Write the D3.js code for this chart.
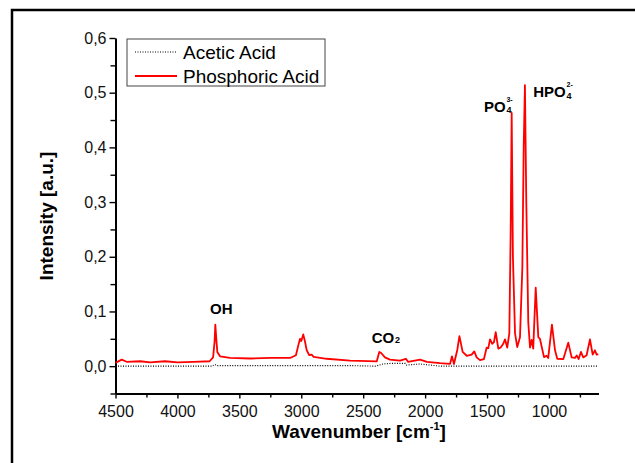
<!DOCTYPE html>
<html>
<head>
<meta charset="utf-8">
<script src="https://cdn.jsdelivr.net/npm/d3@7"></script>
<style>
  body { margin: 0; background: #fff; }
  svg { display: block; }
  text { font-family: 'Liberation Sans', Arial, sans-serif; }
</style>
</head>
<body>
<svg></svg>
<script>
var width = 635;
var height = 463;

// phosphoric acid spectrum
var phosphoricWavenumber = [4500, 4450, 4410, 4300, 4220, 4100, 4000, 3870, 3740, 3712, 3700, 3694, 3686, 3678, 3656,
  3576, 3414, 3250, 3090, 3043, 3024, 3010, 3000, 2984, 2970, 2956, 2935, 2916, 2900, 2795, 2607, 2391, 2370, 2355,
  2324, 2284, 2203, 2155, 2138, 2041, 1985, 1880, 1799, 1783, 1767, 1740, 1723, 1697, 1664, 1624, 1603, 1584, 1557,
  1525, 1503, 1490, 1476, 1458, 1444, 1430, 1409, 1390, 1369, 1355, 1337, 1320, 1309, 1301, 1291, 1274, 1256, 1234,
  1215, 1204, 1194, 1183, 1167, 1153, 1140, 1127, 1107, 1086, 1073, 1040, 1019, 1006, 976, 951, 933, 884, 844, 817,
  790, 776, 760, 742, 723, 696, 669, 647, 629, 615, 602];
var phosphoricIntensity = [0.006, 0.012, 0.008, 0.009, 0.007, 0.009, 0.007, 0.008, 0.009, 0.016, 0.045, 0.076, 0.05, 0.026, 0.018,
  0.015, 0.014, 0.015, 0.015, 0.020, 0.038, 0.050, 0.046, 0.058, 0.045, 0.029, 0.020, 0.021, 0.017, 0.0135, 0.010, 0.0086, 0.026, 0.024,
  0.016, 0.012, 0.010, 0.0135, 0.008, 0.012, 0.008, 0.0055, 0.004, 0.018, 0.004, 0.030, 0.055, 0.026, 0.019, 0.021, 0.027, 0.016, 0.011,
  0.013, 0.034, 0.033, 0.049, 0.041, 0.044, 0.062, 0.032, 0.034, 0.041, 0.049, 0.034, 0.060, 0.25, 0.463, 0.20, 0.060, 0.035, 0.053,
  0.18, 0.40, 0.514, 0.30, 0.080, 0.034, 0.048, 0.032, 0.1436, 0.053, 0.050, 0.0165, 0.019, 0.015, 0.076, 0.029, 0.0135, 0.013, 0.043, 0.016,
  0.015, 0.0196, 0.013, 0.026, 0.016, 0.020, 0.049, 0.021, 0.029, 0.021, 0.022];

// acetic acid spectrum (almost flat)
var aceticWavenumber = [4500, 3720, 3700, 3680, 2600, 2400, 2340, 2280, 2160, 2150, 2040, 1960, 1880, 600];
var aceticIntensity = [0.0, 0.0, 0.003, 0.001, 0.001, 0.0, 0.004, 0.005, 0.005, 0.002, 0.004, 0.002, 0.0, 0.0];

var seriesNames = ['Acetic Acid', 'Phosphoric Acid'];
var seriesColors = ['#000', '#ff0000'];

var xTicks = [4500, 4000, 3500, 3000, 2500, 2000, 1500, 1000];
var xMinorTicks = [4250, 3750, 3250, 2750, 2250, 1750, 1250, 750];
var yTicks = [0, 0.1, 0.2, 0.3, 0.4, 0.5, 0.6];
var yMinorTicks = [-0.05, 0.05, 0.15, 0.25, 0.35, 0.45, 0.55];

// band labels: main text, subscript, superscript, anchor in data units
var bandText = ['OH', 'CO', 'PO', 'HPO'];
var bandSub = ['', '2', '4', '4'];
var bandSup = ['', '', '3-', '2-'];
var bandWavenumber = [3646, 2431, 1525, 1127];
var bandIntensity = [0.0955, 0.0415, 0.4654, 0.4917];

var svg = d3.select('svg')
  .attr('width', width)
  .attr('height', height);

// outer frame, runs past the picture on the right and bottom
svg.append('rect')
  .attr('x', 12)
  .attr('y', 10)
  .attr('width', 700)
  .attr('height', 520)
  .attr('fill', 'none')
  .attr('stroke', '#000')
  .attr('stroke-width', 2.5);

var x = d3.scaleLinear().domain([4500, 600]).range([115.5, 598.5]);
var y = d3.scaleLinear().domain([-0.05, 0.6]).range([393.5, 38]);

var locale = d3.formatLocale({decimal: ',', thousands: '.', grouping: [3], currency: ['', '']});
var yFormat = locale.format('.1f');

// x axis
var xAxisG = svg.append('g')
  .attr('transform', `translate(0, ${y.range()[0]})`)
  .call(d3.axisBottom(x).tickValues(xTicks).tickFormat(d3.format('d'))
    .tickSize(5).tickPadding(7).tickSizeOuter(0));
svg.append('g')
  .attr('transform', `translate(0, ${y.range()[0]})`)
  .call(d3.axisBottom(x).tickValues(xMinorTicks).tickSize(4).tickFormat(''))
  .select('.domain').remove();

// y axis
var yAxisG = svg.append('g')
  .attr('transform', `translate(${x.range()[0]}, 0)`)
  .call(d3.axisLeft(y).tickValues(yTicks).tickFormat(yFormat).tickSize(6).tickPadding(3).tickSizeOuter(0));
svg.append('g')
  .attr('transform', `translate(${x.range()[0]}, 0)`)
  .call(d3.axisLeft(y).tickValues(yMinorTicks).tickSize(5).tickFormat(''))
  .select('.domain').remove();

[xAxisG, yAxisG].forEach(function(g) {
  g.style('font-size', '16px').style('font-family', "'Liberation Sans', Arial, sans-serif");
  g.selectAll('text').attr('fill', '#111');
  g.select('.domain').attr('stroke-width', 2);
});
svg.selectAll('.tick line').attr('stroke-width', 1.4);

// spectra
var line = d3.line()
  .x(function(d) { return x(d[0]); })
  .y(function(d) { return y(d[1]); });

svg.append('path')
  .datum(d3.zip(aceticWavenumber, aceticIntensity))
  .attr('d', line)
  .attr('fill', 'none')
  .attr('stroke', seriesColors[0])
  .attr('stroke-width', 1.1)
  .attr('stroke-dasharray', '1,1.5');

svg.append('path')
  .datum(d3.zip(phosphoricWavenumber, phosphoricIntensity))
  .attr('d', line)
  .attr('fill', 'none')
  .attr('stroke', seriesColors[1])
  .attr('stroke-width', 1.8)
  .attr('stroke-linejoin', 'round');

// band labels
bandText.forEach(function(t, i) {
  var bx = x(bandWavenumber[i]);
  var by = y(bandIntensity[i]);
  var main = svg.append('text')
    .attr('x', bx)
    .attr('y', by)
    .attr('text-anchor', i === 0 ? 'middle' : 'start')
    .attr('font-size', 15)
    .attr('font-weight', 'bold')
    .text(t);
  var bb = main.node().getBBox();
  var right = bb.x + bb.width + 0.5;
  if (bandSub[i]) {
    svg.append('text')
      .attr('x', right)
      .attr('y', bandSup[i] ? by + 1.5 : by)
      .attr('font-size', 9)
      .attr('font-weight', 'bold')
      .text(bandSub[i]);
  }
  if (bandSup[i]) {
    svg.append('text')
      .attr('x', right)
      .attr('y', by - 10)
      .attr('font-size', 7)
      .attr('font-weight', 'bold')
      .text(bandSup[i]);
  }
});

// axis titles
svg.append('text')
  .attr('transform', 'translate(53, 216) rotate(-90)')
  .attr('text-anchor', 'middle')
  .attr('font-size', 19)
  .attr('font-weight', 'bold')
  .text('Intensity [a.u.]');

var xTitle = svg.append('text')
  .attr('x', 359)
  .attr('y', 438)
  .attr('text-anchor', 'middle')
  .attr('font-size', 19)
  .attr('font-weight', 'bold');
xTitle.append('tspan').text('Wavenumber [cm');
xTitle.append('tspan').attr('font-size', 11).attr('dy', -8).text('-1');
xTitle.append('tspan').attr('dy', 8).text(']');

// legend
var legend = svg.append('g').attr('transform', 'translate(127, 39)');
legend.append('rect')
  .attr('width', 198)
  .attr('height', 47)
  .attr('fill', '#fff')
  .attr('stroke', '#444')
  .attr('stroke-width', 1);

seriesNames.forEach(function(name, i) {
  var ly = 13 + i * 24;
  legend.append('line')
    .attr('x1', 8)
    .attr('x2', 50)
    .attr('y1', ly)
    .attr('y2', ly)
    .attr('stroke', seriesColors[i])
    .attr('stroke-width', i === 0 ? 1.1 : 1.8)
    .attr('stroke-dasharray', i === 0 ? '1,1.5' : null);
  legend.append('text')
    .attr('x', 56)
    .attr('y', ly + 6.5)
    .attr('font-size', 19)
    .text(name);
});
</script>
</body>
</html>
